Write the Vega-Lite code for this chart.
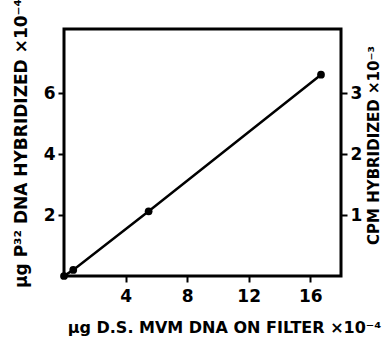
{
  "$schema": "https://vega.github.io/schema/vega-lite/v6.json",
  "width": 277,
  "height": 247,
  "autosize": "none",
  "padding": {"left": 64, "top": 29, "right": 42, "bottom": 64},
  "background": "white",
  "config": {
    "font": "DejaVu Sans",
    "view": {"stroke": "black", "strokeWidth": 3},
    "axis": {
      "domain": false,
      "grid": false,
      "tickColor": "black",
      "tickWidth": 2,
      "tickSize": 6,
      "labelColor": "black",
      "labelFont": "DejaVu Sans",
      "labelFontWeight": "bold",
      "labelFontSize": 17,
      "titleColor": "black",
      "titleFont": "DejaVu Sans",
      "titleFontWeight": "bold",
      "titleFontSize": 15
    }
  },
  "layer": [
    {
      "data": {
        "values": [
          {"filter_dna": 0, "p32_dna": 0},
          {"filter_dna": 0.6, "p32_dna": 0.2},
          {"filter_dna": 5.5, "p32_dna": 2.12},
          {"filter_dna": 16.7, "p32_dna": 6.6}
        ]
      },
      "mark": {
        "type": "line",
        "color": "black",
        "strokeWidth": 2.5,
        "point": {"filled": true, "color": "black", "size": 60, "opacity": 1}
      },
      "encoding": {
        "x": {
          "field": "filter_dna",
          "type": "quantitative",
          "scale": {"domain": [0, 18], "nice": false},
          "axis": {
            "values": [4, 8, 12, 16],
            "labelPadding": 6,
            "title": "µg D.S. MVM DNA ON FILTER ×10⁻⁴",
            "titleFontSize": 16,
            "titleX": 160,
            "titleY": 51,
            "titleBaseline": "middle",
            "titleAlign": "center"
          }
        },
        "y": {
          "field": "p32_dna",
          "type": "quantitative",
          "scale": {"domain": [0, 8.1], "nice": false},
          "axis": {
            "orient": "left",
            "values": [2, 4, 6],
            "labelPadding": 3,
            "title": "µg P³² DNA HYBRIDIZED ×10⁻⁴",
            "titleFontSize": 17,
            "titleX": -43,
            "titleY": 114,
            "titleAngle": 270,
            "titleBaseline": "middle",
            "titleAlign": "center"
          }
        }
      }
    },
    {
      "data": {"values": [{"cpm": 0}, {"cpm": 4.05}]},
      "mark": {"type": "point", "opacity": 0},
      "encoding": {
        "y": {
          "field": "cpm",
          "type": "quantitative",
          "scale": {"domain": [0, 4.05], "nice": false},
          "axis": {
            "orient": "right",
            "values": [1, 2, 3],
            "labelPadding": 3,
            "title": "CPM HYBRIDIZED ×10⁻³",
            "titleFontSize": 15,
            "titleX": 32,
            "titleY": 116,
            "titleAngle": 270,
            "titleBaseline": "middle",
            "titleAlign": "center"
          }
        }
      }
    }
  ],
  "resolve": {"scale": {"y": "independent"}}
}
